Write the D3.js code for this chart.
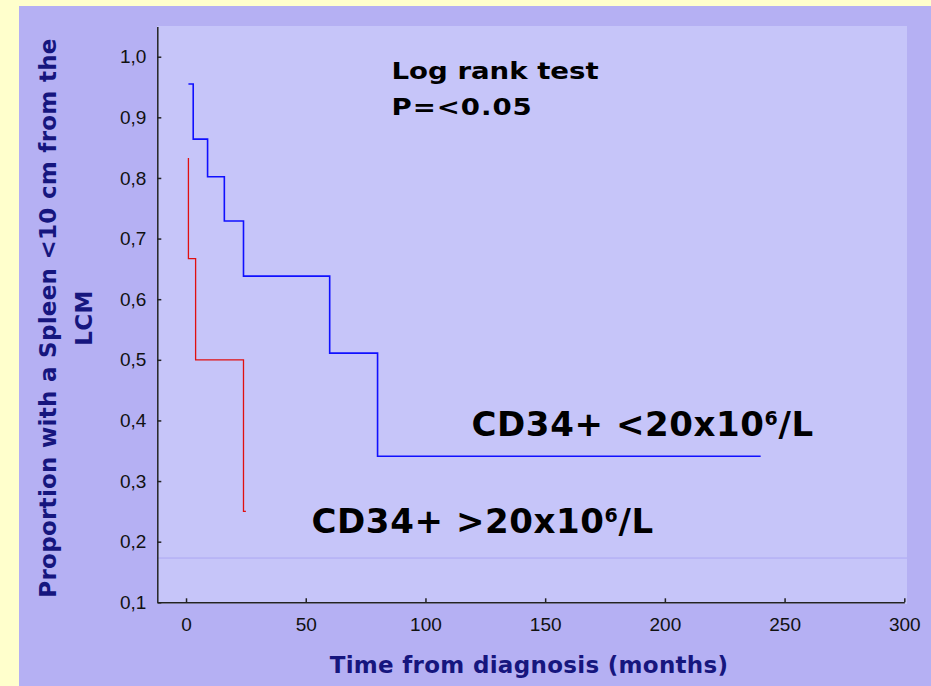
<!DOCTYPE html>
<html lang="en">
<head>
<meta charset="UTF-8"/>
<title>Spleen size by CD34+ count</title>
<script src="https://d3js.org/d3.v7.min.js"></script>
<style>
	body { margin: 0; background: #ffffcc; }
	.axis path, .axis line { fill: none; stroke: #222; stroke-width: 1.5px; }
	.axis text { font-family: "Liberation Sans", Arial, sans-serif; font-size: 19px; fill: #111; }
	.title { font-family: "DejaVu Sans", Verdana, sans-serif; font-weight: bold; font-size: 23px; fill: #16167e; }
	.note { font-family: "DejaVu Sans", Verdana, sans-serif; font-weight: bold; fill: #000; }
	.km { fill: none; }
</style>
</head>
<body>
<div id="chart"></div>
<script>
	var w = 931, h = 686;

	// Kaplan-Meier steps (months, proportion)
	var lowTimes = [1, 3, 9, 16, 24, 60, 80, 240];
	var lowSurv = [0.955, 0.864, 0.802, 0.729, 0.638, 0.511, 0.341, 0.341];
	var highTimes = [1, 1, 4, 24, 25];
	var highSurv = [0.833, 0.667, 0.5, 0.25, 0.25];
	var refLine = 0.173;

	var xTicks = [0, 50, 100, 150, 200, 250, 300];
	var yTicks = [0.1, 0.2, 0.3, 0.4, 0.5, 0.6, 0.7, 0.8, 0.9, 1.0];

	var xScale = d3.scaleLinear().domain([-12, 300]).range([157.3, 904.3]);
	var yScale = d3.scaleLinear().domain([0.1, 1.05]).range([602.3, 26.4]);

	var svg = d3.select("#chart").append("svg")
		.attr("width", w)
		.attr("height", h)
		.style("display", "block");

	svg.append("rect").attr("x", 0).attr("y", 0).attr("width", w).attr("height", h).attr("fill", "#ffffcc");
	svg.append("rect").attr("x", 19).attr("y", 6).attr("width", w - 19).attr("height", h - 6).attr("fill", "#b5b0f3");
	svg.append("rect").attr("x", 157).attr("y", 26).attr("width", 750).attr("height", 578).attr("fill", "#c6c5f9");

	svg.append("line")
		.attr("x1", 157).attr("x2", 907)
		.attr("y1", yScale(refLine)).attr("y2", yScale(refLine))
		.attr("stroke", "#ada7f3").attr("stroke-width", 1);

	var xAxis = d3.axisBottom(xScale).tickValues(xTicks).tickSizeInner(-4).tickSizeOuter(0).tickPadding(15.5);
	var yAxis = d3.axisLeft(yScale).tickValues(yTicks).tickSizeInner(-4).tickSizeOuter(0).tickPadding(11)
		.tickFormat(function(d) { return d3.format(".1f")(d).replace(".", ","); });

	svg.append("g").attr("class", "axis")
		.attr("transform", "translate(0," + yScale(0.1) + ")")
		.call(xAxis);
	svg.append("g").attr("class", "axis")
		.attr("transform", "translate(157.3,0)")
		.call(yAxis);

	var line = d3.line()
		.x(function(d) { return xScale(d[0]); })
		.y(function(d) { return yScale(d[1]); })
		.curve(d3.curveStepAfter);

	svg.append("path").attr("class", "km")
		.datum(d3.zip(lowTimes, lowSurv))
		.attr("d", line)
		.attr("stroke", "#1010ff").attr("stroke-width", 1.6);

	svg.append("path").attr("class", "km")
		.datum(d3.zip(highTimes, highSurv))
		.attr("d", line)
		.attr("stroke", "#e01010").attr("stroke-width", 1.3);

	// annotations (the original text is stretched sideways)
	svg.append("text").attr("class", "note")
		.attr("transform", "translate(391.5,78.5) scale(1.2,1)")
		.style("font-size", "23px").text("Log rank test");
	svg.append("text").attr("class", "note")
		.attr("transform", "translate(391.5,115) scale(1.2,1)")
		.style("font-size", "23px").style("letter-spacing", "0.8px").text("P=<0.05");

	function cdLabel(x, y, sign) {
		var t = svg.append("text").attr("class", "note").attr("x", x).attr("y", y)
			.style("font-size", "34px").style("letter-spacing", "0.6px");
		t.append("tspan").text("CD34+ " + sign + "20x10");
		t.append("tspan").attr("dy", -11).style("font-size", "19px").text("6");
		t.append("tspan").attr("dy", 11).text("/L");
	}
	cdLabel(471.5, 435.7, "<");
	cdLabel(311.5, 533.3, ">");

	// axis titles
	svg.append("text").attr("class", "title")
		.attr("x", 529).attr("y", 673)
		.attr("text-anchor", "middle")
		.style("letter-spacing", "0.3px")
		.text("Time from diagnosis (months)");

	var yt = svg.append("text").attr("class", "title")
		.attr("transform", "translate(56,318) rotate(-90)")
		.attr("text-anchor", "middle")
		.style("letter-spacing", "0.28px");
	yt.append("tspan").attr("x", 0).attr("y", 0).text("Proportion with a Spleen <10 cm from the");
	yt.append("tspan").attr("x", 0).attr("y", 36).text("LCM");
</script>
</body>
</html>
